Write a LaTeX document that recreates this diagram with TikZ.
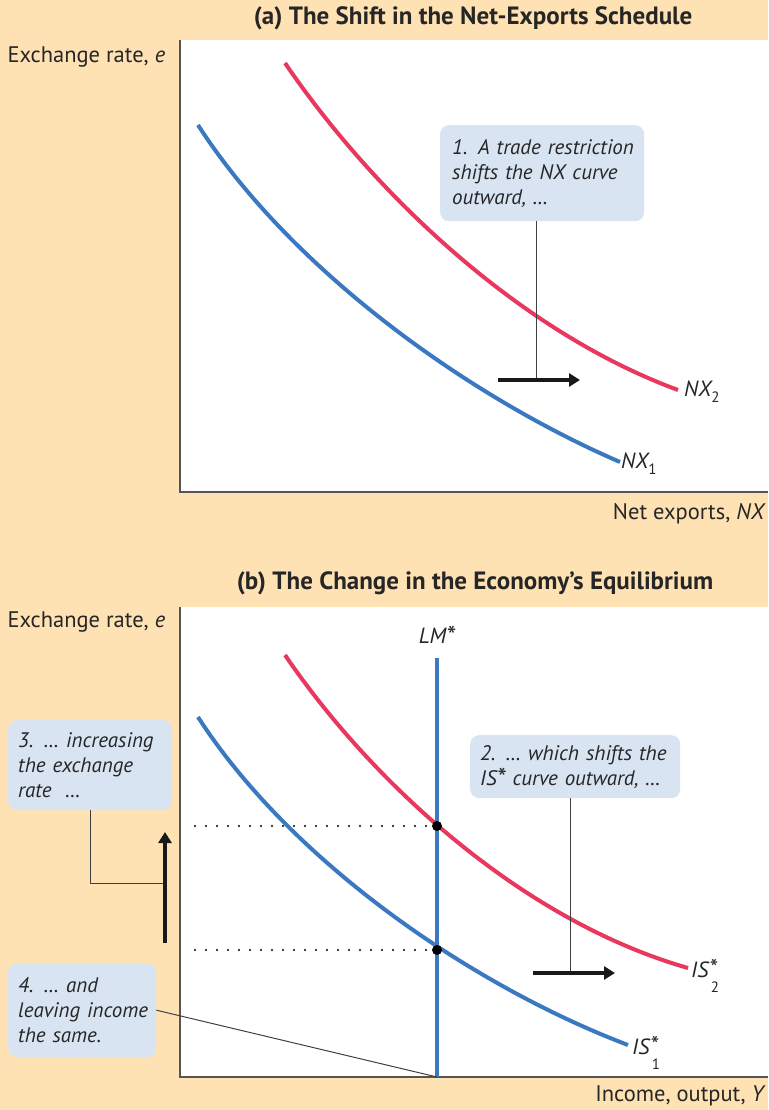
\documentclass[tikz,border=0pt]{standalone}
\usepackage{fontspec}
\setmainfont{PT Sans}
\usetikzlibrary{arrows.meta}
\definecolor{bgc}{HTML}{FEE2B4}
\definecolor{boxc}{HTML}{D9E4F3}
\definecolor{bluec}{HTML}{3A78C2}
\definecolor{redc}{HTML}{E8385E}
\definecolor{axc}{HTML}{555555}
\hbadness=10000 \hfuzz=100pt
\newcommand{\subsc}[1]{\raisebox{-6pt}{\fontsize{15}{15}\selectfont\upshape #1}}
\newcommand{\bigast}{\raisebox{-2pt}{\fontsize{27}{27}\selectfont *}}
\tikzset{
  curveblue/.style={bluec,line width=4pt},
  curvered/.style={redc,line width=4pt},
  axis/.style={axc,line width=1.6pt},
  note/.style={fill=boxc,rounded corners=9pt,align=left,inner ysep=0pt,font=\fontsize{21}{25}\selectfont\itshape,text=black!85},
  leader/.style={black!75,line width=1pt},
  bigarrow/.style={black!90,line width=4pt,-{Triangle[length=11pt,width=13pt]}},
  lab/.style={font=\fontsize{22.5}{26}\selectfont,text=black!85},
  curvelab/.style={font=\fontsize{22}{26}\selectfont\itshape,text=black!85,anchor=west,inner sep=1pt},
  astlab/.style={font=\fontsize{24}{24}\selectfont,text=black!85,anchor=west,inner sep=0pt},
  sublab/.style={font=\fontsize{15}{15}\selectfont,text=black!85,anchor=north west,inner sep=0pt},
  ttl/.style={font=\fontsize{25}{28}\selectfont\bfseries,text=black!85},
  dot/.style={circle,fill=black,inner sep=0pt,minimum size=10pt},
  dots/.style={black,line width=2.4pt,line cap=round,dash pattern=on 0pt off 11pt},
}
\begin{document}
\begin{tikzpicture}[x=1pt,y=-1pt]
\useasboundingbox (0,0) rectangle (768,1110);
\fill[bgc] (0,0) rectangle (768,1110);
% ---------- panel (a)
\fill[white] (180,40) rectangle (768,492);
\node[ttl] (ta) at (473,18) {(a) The Shift in the Net-Exports Schedule};
\node[lab,anchor=west] (ya) at (4,57) {Exchange rate, \textit{e}};
\node[lab,anchor=east,inner xsep=2pt] (xa) at (768,514) {Net exports, \textit{NX}};
\draw[axis] (180,40) -- (180,492) -- (768,492);
\draw[curveblue] (198,125) .. controls (290,268) and (465,395) .. (620,462);
\draw[curvered] (285,63) .. controls (370,188) and (515,330) .. (678,390);
\node[curvelab] (nx1) at (620,464) {NX\subsc{1}};
\node[curvelab] (nx2) at (683,392) {NX\subsc{2}};
\node[note,inner xsep=12pt,minimum height=96pt,text width=180pt,anchor=north west] (b1) at (440,125) {\mbox{1. A trade restriction}\\\mbox{shifts the NX curve}\\\mbox{outward, \ldots}};
\coordinate (a1s) at (498,380);
\coordinate (a1e) at (580,380);
\coordinate (a1m) at (536,380);
\draw[leader] (b1.south -| a1m) -- (a1m);
\draw[bigarrow] (a1s) -- (a1e);
% ---------- panel (b)
\fill[white] (180,607) rectangle (768,1077);
\node[ttl] (tb) at (475,583) {(b) The Change in the Economy’s Equilibrium};
\node[lab,anchor=west] (yb) at (4,622) {Exchange rate, \textit{e}};
\node[lab,anchor=east,inner xsep=2pt] (xb) at (768,1096) {Income, output, \textit{Y}};
\draw[axis] (180,607) -- (180,1077) -- (768,1077);
\coordinate (lmtop) at (437,658);
\coordinate (lmbot) at (437,1077);
\node[curvelab,anchor=center] (lm) at (437,636) {LM\bigast};
\draw[curveblue] (198,717) .. controls (290,860) and (470,985) .. (628,1045);
\draw[curvered] (285,655) .. controls (370,780) and (520,920) .. (688,968);
\draw[bluec,line width=4pt] (lmtop) -- (lmbot);
\node[dot] (e2) at (437,826) {};
\node[dot] (e1) at (437,950) {};
\coordinate (d2) at (195,826);
\coordinate (d1) at (195,950);
\draw[dots] (d2) -- (e2);
\draw[dots] (d1) -- (e1);
\node[curvelab] (is1) at (631,1047) {IS};
\node[astlab] (is1a) at ([yshift=-7pt]is1.north east) {*};
\node[sublab] (is1b) at ([xshift=1pt,yshift=-2pt]is1.south east) {1};
\node[curvelab] (is2) at (690,970) {IS};
\node[astlab] (is2a) at ([yshift=-7pt]is2.north east) {*};
\node[sublab] (is2b) at ([xshift=1pt,yshift=-2pt]is2.south east) {2};
% box 2
\node[note,inner xsep=10pt,minimum height=63pt,text width=190pt,anchor=north west] (b2) at (470,735) {\mbox{2. \ldots\ which shifts the}\\\mbox{IS\bigast\ curve outward, \ldots}};
\coordinate (a2s) at (533,973);
\coordinate (a2e) at (615,973);
\coordinate (a2m) at (570,973);
\draw[leader] (b2.south -| a2m) -- (a2m);
\draw[bigarrow] (a2s) -- (a2e);
% box 3
\node[note,inner xsep=10pt,minimum height=90pt,text width=144pt,anchor=north west] (b3) at (8,720) {\mbox{3. \ldots\ increasing}\\\mbox{the exchange}\\\mbox{rate\ \ \ldots}};
\coordinate (a3s) at (165,943);
\coordinate (a3e) at (165,832);
\coordinate (a3m) at (165,883);
\coordinate (a3c) at (90,883);
\draw[leader] (b3.south -| a3c) -- (a3c) -- (a3m);
\draw[bigarrow] (a3s) -- (a3e);
% box 4
\node[note,inner xsep=10pt,minimum height=94pt,text width=128pt,anchor=north west] (b4) at (8,963) {\mbox{4. \ldots\ and}\\\mbox{leaving income}\\\mbox{the same.}};
\draw[leader] (b4.east) -- (lmbot);
\end{tikzpicture}
\end{document}
